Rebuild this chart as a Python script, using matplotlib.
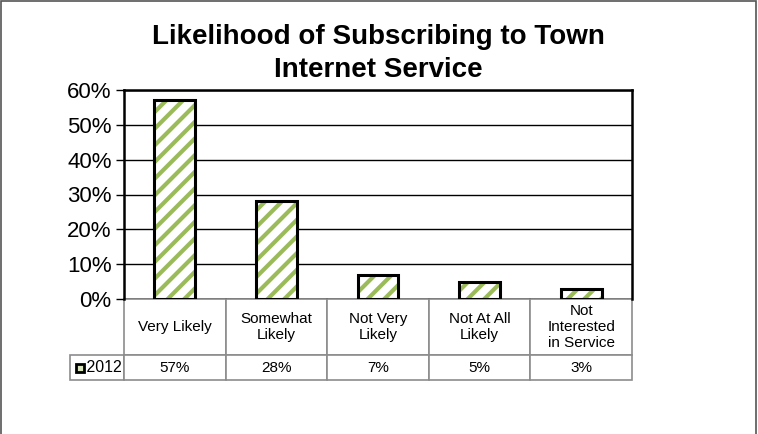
import matplotlib.pyplot as plt
from matplotlib.patches import Rectangle

plt.rcParams['font.family'] = ['Liberation Sans', 'DejaVu Sans']
plt.rcParams['hatch.linewidth'] = 3.0

categories = ['Very Likely', 'Somewhat\nLikely', 'Not Very\nLikely',
              'Not At All\nLikely', 'Not\nInterested\nin Service']
values_2012 = [57, 28, 7, 5, 3]
series_name = '2012'
yticks = [0, 10, 20, 30, 40, 50, 60]

green = '#9bbb59'
grid_grey = '#8c8c8c'

W, H = 758, 434
fig = plt.figure(figsize=(W / 100, H / 100), dpi=100)
ax_l, ax_r, ax_t, ax_b = 124, 632, 90, 299
ax = fig.add_axes([ax_l / W, 1 - ax_b / H, (ax_r - ax_l) / W, (ax_b - ax_t) / H])

x = range(len(categories))
# hatched fill first, then a plain black outline on top
ax.bar(x, values_2012, width=0.4, color='white', edgecolor=green,
       hatch='//', linewidth=0, zorder=3)
ax.bar(x, values_2012, width=0.4, fill=False, edgecolor='black',
       linewidth=2.2, zorder=4)

ax.set_xlim(-0.5, len(categories) - 0.5)
ax.set_ylim(0, 60)
ax.set_yticks(yticks)
ax.set_yticklabels([f'{v}%' for v in yticks], fontsize=16)
ax.set_xticks([])
ax.yaxis.grid(True, color='black', linewidth=1)
ax.set_axisbelow(True)
ax.tick_params(axis='y', direction='out', length=6, width=1, pad=3)
for side in ['left', 'top', 'right']:
    ax.spines[side].set_linewidth(1.8)
ax.spines['bottom'].set_visible(False)

ax.set_title('Likelihood of Subscribing to Town\nInternet Service',
             fontsize=20, fontweight='bold', pad=9, linespacing=1.35)

# data table under the plot: first column holds the series name
plot_w = ax_r - ax_l
plot_h = ax_b - ax_t
label_w = ax_l - 70
head_h, row_h = 56, 25
cell_text = [[''] + categories,
             [series_name] + [f'{v}%' for v in values_2012]]
tbl = ax.table(cellText=cell_text, cellLoc='center',
               bbox=[-label_w / plot_w, -(head_h + row_h) / plot_h,
                     1 + label_w / plot_w, (head_h + row_h) / plot_h])
tbl.auto_set_font_size(False)
tbl.set_fontsize(11)
for (r, c), cell in tbl.get_celld().items():
    cell.set_edgecolor(grid_grey)
    cell.set_linewidth(1.2)
    cell.set_height(head_h if r == 0 else row_h)
    cell.set_width(label_w if c == 0 else plot_w / len(categories))
    if r == 0:
        cell.get_text().set_linespacing(1.15)
    if (r, c) == (0, 0):
        cell.visible_edges = ''
    if (r, c) == (1, 0):
        cell.get_text().set_text('   ' + series_name)
        cell.get_text().set_fontsize(11.5)

# legend key next to the series name
key_x = -(label_w - 6) / plot_w
key_y = -(head_h + row_h / 2 + 4) / plot_h
key = Rectangle((key_x, key_y), 8 / plot_w, 8 / plot_h, transform=ax.transAxes,
                facecolor='#d7e4bd', edgecolor='black', linewidth=2,
                clip_on=False, zorder=5)
ax.add_patch(key)

# outer chart border
fig.add_artist(Rectangle((0.001, -0.1), 0.997, 1.098, transform=fig.transFigure,
                         fill=False, edgecolor='#555555', linewidth=1.2))

fig.savefig('out.png', dpi=100)
